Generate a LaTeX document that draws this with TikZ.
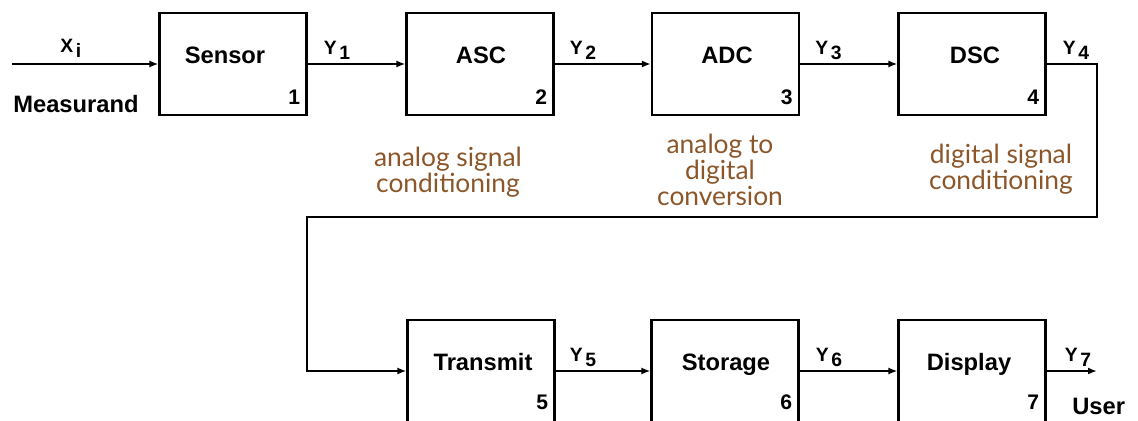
\documentclass[tikz,border=0pt]{standalone}
\usepackage{fontspec}
\setmainfont{Liberation Sans}
\newfontfamily\notefont{Lato}
\usetikzlibrary{arrows.meta,calc}
\definecolor{NoteClr}{RGB}{139,87,42}
\newcommand{\sig}[2]{#1\hspace{1.5pt}\raisebox{-2.5pt}{#2}}

\begin{document}
\begin{tikzpicture}[x=0.02cm,y=-0.02cm,
  block/.style={draw,line width=1.2pt,minimum width=2.94cm,minimum height=2.04cm,inner sep=0pt},
  blocktext/.style={font=\fontsize{13.5}{16}\selectfont\bfseries,anchor=base,inner sep=0pt},
  num/.style={font=\fontsize{12}{14}\selectfont\bfseries,anchor=base east,inner sep=0pt},
  siglabel/.style={font=\fontsize{11}{13}\selectfont\bfseries,anchor=base west,inner sep=0pt},
  note/.style={font=\notefont\fontsize{15}{15}\selectfont,text=NoteClr,align=center,inner sep=0pt},
  flow/.style={line width=1.1pt,-{Latex[length=1.8mm,width=1.4mm]}}]
\useasboundingbox (0,0) rectangle (1138,421);

\node[block] (sensor) at (233,64) {};
\node[block] (asc) at (480,64) {};
\node[block] (adc) at (725.5,64) {};
\node[block] (dsc) at (972,64) {};
\node[block] (transmit) at (481,371) {};
\node[block] (storage) at (725,371) {};
\node[block] (display) at (972,371) {};

\node[blocktext] (sensor-txt) at (225,64) {Sensor};
\node[blocktext] (asc-txt) at (481,64) {ASC};
\node[blocktext] (adc-txt) at (727,64) {ADC};
\node[blocktext] (dsc-txt) at (975,64) {DSC};
\node[blocktext] (transmit-txt) at (483,371) {Transmit};
\node[blocktext] (storage-txt) at (726,371) {Storage};
\node[blocktext] (display-txt) at (969,371) {Display};

\node[num] (sensor-num) at ($(sensor.south east)+(-7,-12)$) {1};
\node[num] (asc-num) at ($(asc.south east)+(-7,-12)$) {2};
\node[num] (adc-num) at ($(adc.south east)+(-7,-12)$) {3};
\node[num] (dsc-num) at ($(dsc.south east)+(-7,-12)$) {4};
\node[num] (transmit-num) at ($(transmit.south east)+(-7,-14)$) {5};
\node[num] (storage-num) at ($(storage.south east)+(-7,-14)$) {6};
\node[num] (display-num) at ($(display.south east)+(-7,-14)$) {7};

\coordinate (in) at (12,64);
\coordinate (turnA) at (1097,217);
\coordinate (turnB) at (307,217);
\coordinate (out) at (1097,371);

\draw[flow] (in) -- (sensor.west);
\draw[flow] (sensor) -- (asc);
\draw[flow] (asc) -- (adc);
\draw[flow] (adc) -- (dsc);
\draw[flow] (dsc.east) -| (turnA) -- (turnB) |- (transmit.west);
\draw[flow] (transmit) -- (storage);
\draw[flow] (storage) -- (display);
\draw[flow] (display.east) -- (out);

\node[siglabel] (x-lbl) at (60,53) {\sig{X}{i}};
\node[siglabel] (y1-lbl) at ($(sensor.east)+(16,-9)$) {\sig{Y}{1}};
\node[siglabel] (y2-lbl) at ($(asc.east)+(15,-9)$) {\sig{Y}{2}};
\node[siglabel] (y3-lbl) at ($(adc.east)+(15,-9)$) {\sig{Y}{3}};
\node[siglabel] (y4-lbl) at ($(dsc.east)+(16,-9)$) {\sig{Y}{4}};
\node[siglabel] (y5-lbl) at ($(transmit.east)+(14,-9)$) {\sig{Y}{5}};
\node[siglabel] (y6-lbl) at ($(storage.east)+(16,-9)$) {\sig{Y}{6}};
\node[siglabel] (y7-lbl) at ($(display.east)+(18,-9)$) {\sig{Y}{7}};

\node[blocktext,anchor=base west] (measurand) at (13,113) {Measurand};
\node[blocktext,anchor=base west] (user) at (1072,415) {User};

\node[note] (asc-note) at (448,172) {analog signal\\conditioning};
\node[note] (adc-note) at (720,170) {analog to\\digital\\conversion};
\node[note] (dsc-note) at (1001,169) {digital signal\\conditioning};

\end{tikzpicture}
\end{document}
